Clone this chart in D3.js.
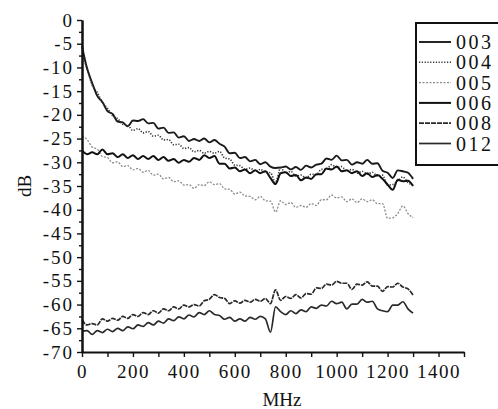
<!DOCTYPE html>
<html>
<head>
<meta charset="utf-8">
<script src="https://cdn.jsdelivr.net/npm/d3@7"></script>
<style>
  body { margin: 0; background: #fff; }
  text { font-family: "Liberation Serif", "Times New Roman", serif; fill: #111; }
</style>
</head>
<body>
<script>
// frequencies (MHz) shared by all series
const freqs = [0,20,40,60,80,100,120,140,160,180,200,220,240,260,280,300,320,340,360,380,
  400,420,440,460,480,500,520,540,560,580,600,620,640,660,680,700,720,740,760,780,
  800,820,840,860,880,900,920,940,960,980,1000,1020,1040,1060,1080,1100,1120,1140,1160,1180,
  1200,1220,1240,1260,1280,1300];

// dB values
const s003 = [-5.5,-10.2,-13.3,-16,-17.3,-19.2,-19.8,-21.4,-21.6,-22.4,-21.2,-21.3,-20.9,-21.8,-21.7,-22.9,-22.7,-23.8,-23.7,-24.8,
  -24.5,-25.5,-25.1,-25.5,-25,-25.8,-25.3,-26.1,-26.7,-28.1,-28,-29.1,-28.9,-29.8,-29.5,-30.4,-30,-30.9,-31.2,-31.1,
  -30.9,-31.5,-31,-31.6,-30.7,-31.1,-30.5,-30.3,-29.2,-29.5,-28.6,-29.6,-29.5,-30.5,-30,-30.3,-29.5,-30.3,-30.2,-31.8,
  -32.2,-33.3,-31.7,-31.9,-32.2,-33.5];
const s004 = [-7.5,-10.3,-13.7,-15.3,-17.4,-18.6,-20.2,-20.8,-22,-22.2,-23.3,-22.9,-23.8,-23.5,-24.5,-24.3,-25.3,-25.2,-26.3,-26.2,
  -27.1,-26.9,-27.8,-27.5,-28.1,-27.7,-28.1,-27.7,-29.1,-29.3,-30.6,-30.7,-31.5,-31.2,-31.9,-31.5,-32.1,-32.2,-34.3,-31.2,
  -32.3,-31.9,-32.9,-32.7,-33.3,-32.5,-32.6,-31.5,-31.5,-30.5,-31.1,-30.9,-31.9,-31.5,-32.3,-31.9,-32.5,-32.1,-32.9,-32.7,
  -34.8,-34.7,-33.9,-33.1,-34.3,-34.8];
const s005 = [-24.5,-25.2,-26.8,-27.2,-28.8,-29,-30.1,-29.9,-30.9,-30.7,-31.6,-31.3,-32.1,-31.7,-32.7,-32.5,-33.5,-33.2,-34.1,-33.9,
  -34.8,-34.7,-35.5,-34.7,-34.9,-34.1,-34.7,-34.5,-35.6,-35.7,-36.7,-36.3,-37.1,-37.2,-37.9,-37.2,-38.1,-38.2,-40.5,-38.1,
  -38.9,-38.5,-39.5,-39.1,-39.5,-38.7,-39.1,-37.9,-37.9,-36.9,-37.5,-37.3,-38.3,-37.7,-38.5,-37.7,-38.3,-37.9,-38.7,-38.7,
  -41.8,-41.7,-40.8,-39.2,-40.8,-41.7];
const s006 = [-27.5,-28.3,-27.9,-28.3,-27.3,-28.3,-28.1,-28.9,-28.3,-29.1,-28.5,-29.3,-28.7,-29.3,-28.7,-29.5,-28.9,-29.7,-29.3,-30.1,
  -29.5,-29.9,-29.1,-29.5,-28.5,-29.1,-28.7,-30.3,-30.3,-31.3,-31.1,-31.9,-31.5,-32.3,-31.7,-32.3,-31.9,-33.3,-34.6,-32.3,
  -32.1,-32.9,-32.7,-33.8,-33.2,-33.5,-32.5,-32.5,-31.3,-31.5,-30.9,-31.9,-31.7,-32.3,-31.9,-32.9,-32.3,-33.1,-32.7,-33.5,
  -34.7,-35.8,-33.7,-34,-33.9,-35];
const s008 = [-63.2,-64.3,-64,-64.3,-63,-63.5,-62.9,-63.3,-62.5,-62.9,-62.1,-62.5,-61.7,-62.1,-61.3,-61.8,-60.9,-61.3,-60.5,-60.9,
  -60.1,-60.5,-60,-60.3,-59.2,-58.9,-57.9,-58.5,-58.7,-59.8,-59.2,-59.7,-59.1,-59.5,-58.9,-59.3,-58.7,-59.8,-56.9,-59.1,
  -58.3,-58.7,-57.9,-58.6,-57.7,-57.8,-56.5,-56.6,-55.7,-55.9,-55.1,-55.5,-55.5,-56.8,-55.7,-55.9,-55.2,-56.1,-56.1,-57.2,
  -56.2,-56.3,-55.5,-56.3,-56.7,-58];
const s012 = [-65.6,-65.5,-66.3,-65.5,-65.9,-65.2,-65.7,-65,-65.5,-64.7,-65.1,-64.3,-64.6,-63.8,-64.3,-63.5,-63.9,-63,-63.4,-62.6,
  -63,-62.2,-62.6,-61.7,-62.1,-61.3,-62.1,-62.3,-63.1,-62.7,-63.5,-63,-63.5,-62.7,-63.1,-62.5,-63,-65.8,-60.5,-61.5,
  -62.1,-61.3,-61.9,-61.1,-61.5,-60.5,-60.8,-60.1,-60.3,-59.3,-59.8,-59.5,-60.9,-59.9,-59.9,-58.9,-59.5,-59.3,-60.9,-61.3,
  -61.5,-60.1,-60.1,-59.4,-60.9,-61.8];

const seriesNames = ['003', '004', '005', '006', '008', '012'];
const seriesValues = [s003, s004, s005, s006, s008, s012];

const yTicks = [0,-5,-10,-15,-20,-25,-30,-35,-40,-45,-50,-55,-60,-65,-70];
const yMinorTicks = [-2.5,-7.5,-12.5,-17.5,-22.5,-27.5,-32.5,-37.5,-42.5,-47.5,-52.5,-57.5,-62.5,-67.5];
const xTicks = [0,100,200,300,400,500,600,700,800,900,1000,1100,1200,1300,1400,1500];
const xLabels = [0,200,400,600,800,1000,1200,1400];

// line looks per series
const styles = [
  { color: '#1a1a1a', width: 1.9, dash: null },
  { color: '#333', width: 1.6, dash: '1.2,1.6' },
  { color: '#8c8c8c', width: 1.3, dash: '2,1.5' },
  { color: '#111', width: 2, dash: null },
  { color: '#2a2a2a', width: 1.7, dash: '5,1' },
  { color: '#2a2a2a', width: 1.7, dash: null }
];

const width = 498;
const height = 409;

const svg = d3.select('body').append('svg')
  .attr('width', width)
  .attr('height', height);

const x = d3.scaleLinear().domain([0, 1500]).range([82, 464]);
const y = d3.scaleLinear().domain([-70, 0]).range([352, 20]);

// curves
const line = d3.line()
  .x((d, i) => x(freqs[i]))
  .y(d => y(d))
  .curve(d3.curveMonotoneX);

svg.selectAll('.series')
  .data(seriesValues)
  .enter()
  .append('path')
  .attr('class', 'series')
  .attr('d', line)
  .attr('fill', 'none')
  .attr('stroke', (d, i) => styles[i].color)
  .attr('stroke-width', (d, i) => styles[i].width)
  .attr('stroke-dasharray', (d, i) => styles[i].dash)
  .attr('stroke-linejoin', 'round');

// y axis
const yAxis = svg.append('g')
  .attr('transform', `translate(${x(0)},0)`)
  .call(d3.axisLeft(y).tickValues(yTicks).tickSize(5).tickSizeOuter(0).tickPadding(3).tickFormat(d => String(d)));
svg.append('g')
  .attr('transform', `translate(${x(0)},0)`)
  .call(d3.axisLeft(y).tickValues(yMinorTicks).tickSize(3).tickSizeOuter(0).tickFormat(''));

// x axis
const xAxis = svg.append('g')
  .attr('transform', `translate(0,${y(-70)})`)
  .call(d3.axisBottom(x).tickValues(xTicks).tickSize(5).tickSizeOuter(0).tickPadding(8)
    .tickFormat(d => xLabels.includes(d) ? String(d) : ''));

svg.selectAll('.domain').attr('stroke', '#111').attr('stroke-width', 2);
svg.selectAll('.tick line').attr('stroke', '#111').attr('stroke-width', 1.4);
svg.selectAll('.tick text')
  .attr('fill', '#111')
  .style('font-family', '"Liberation Serif", serif')
  .style('font-size', '19px');
yAxis.selectAll('.tick text').style('letter-spacing', '2px');
xAxis.selectAll('.tick text').style('letter-spacing', '1.5px');

// axis titles
svg.append('text')
  .attr('x', (x(0) + x(1500)) / 2 + 9)
  .attr('y', 406)
  .attr('text-anchor', 'middle')
  .style('font-size', '19px')
  .text('MHz');

svg.append('text')
  .attr('transform', `translate(31,${y(-35)}) rotate(-90)`)
  .attr('text-anchor', 'middle')
  .style('font-size', '19px')
  .text('dB');

// legend
const legend = svg.append('g');
legend.append('rect')
  .attr('x', 416)
  .attr('y', 23)
  .attr('width', 110)
  .attr('height', 142)
  .attr('fill', 'none')
  .attr('stroke', '#111')
  .attr('stroke-width', 2);

const items = legend.selectAll('.item')
  .data(seriesNames)
  .enter()
  .append('g')
  .attr('class', 'item')
  .attr('transform', (d, i) => `translate(0,${42 + i * 20.3})`);

items.append('line')
  .attr('x1', 419)
  .attr('x2', 451)
  .attr('stroke', (d, i) => styles[i].color)
  .attr('stroke-width', (d, i) => styles[i].width)
  .attr('stroke-dasharray', (d, i) => styles[i].dash);

items.append('text')
  .attr('x', 456)
  .attr('dy', '0.35em')
  .style('font-size', '20px')
  .style('letter-spacing', '2.5px')
  .text(d => d);
</script>
</body>
</html>
